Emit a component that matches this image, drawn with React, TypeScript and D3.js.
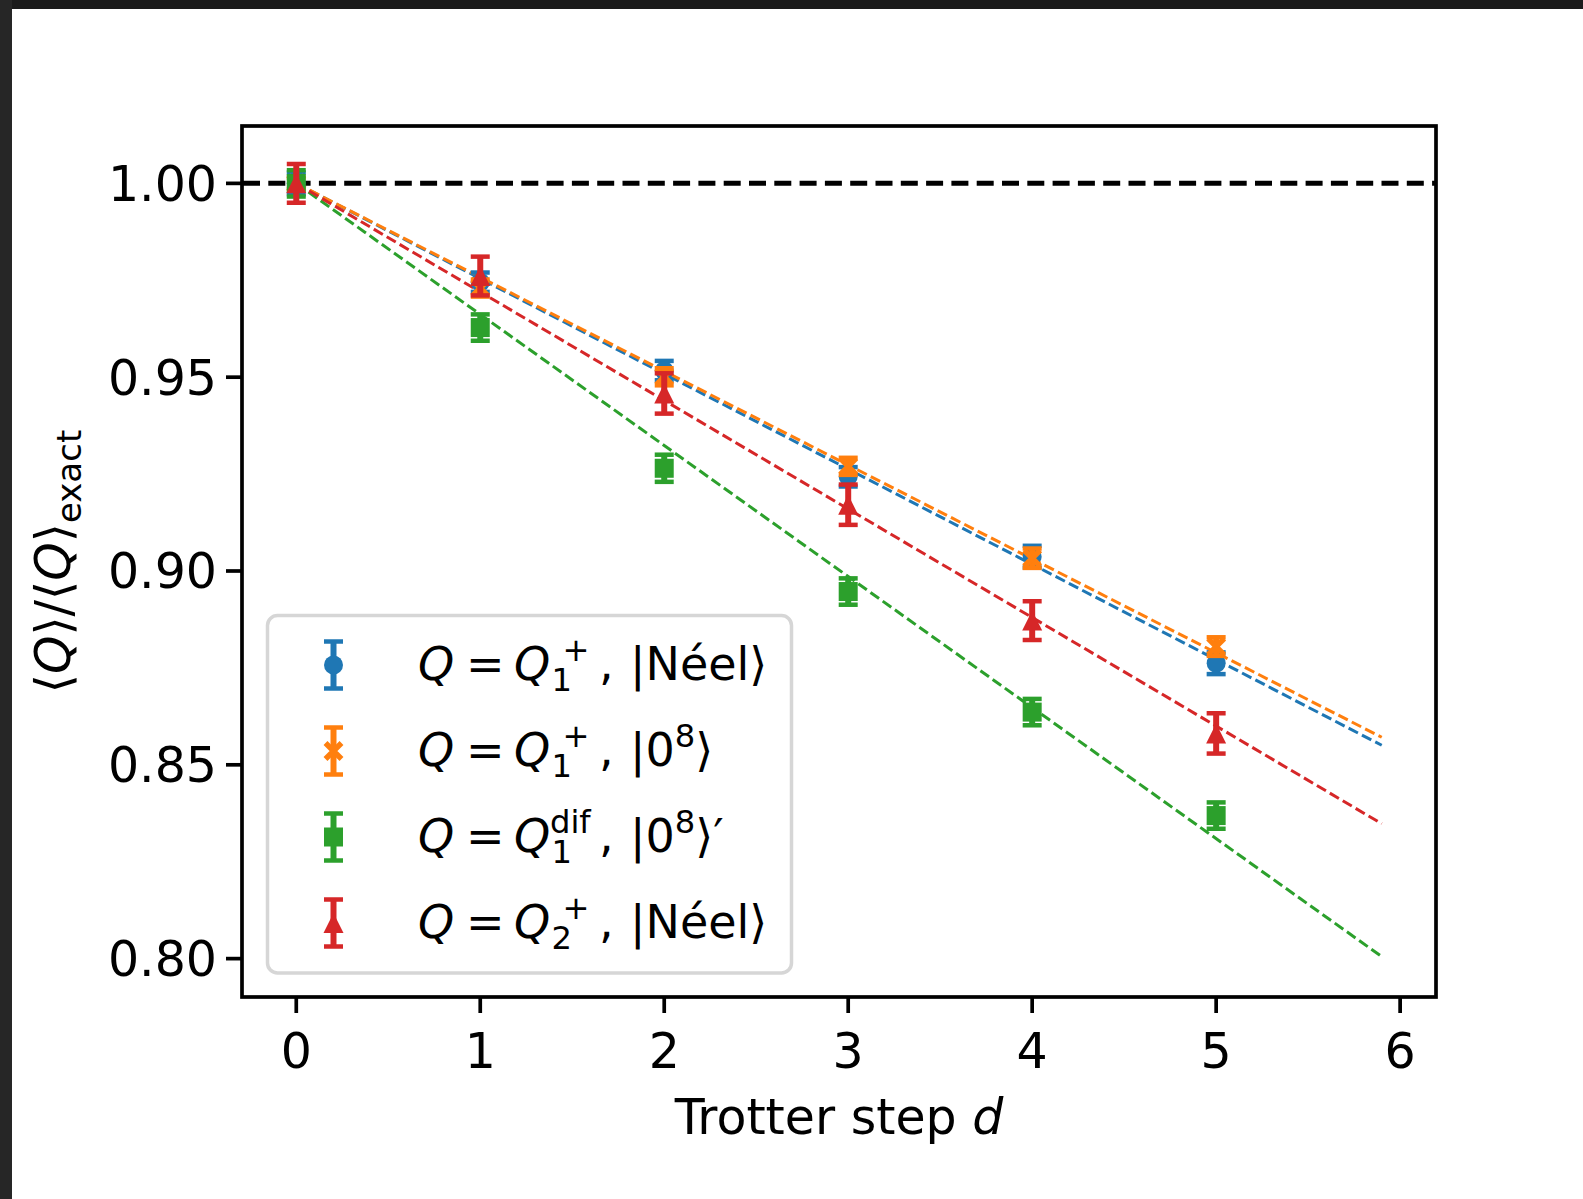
import React from 'react';
import * as d3 from 'd3';

// Trotter steps and measured ratios <Q>/<Q>_exact
const steps = [0, 1, 2, 3, 4, 5];

const q1NeelVals = [1.0, 0.9745, 0.9517, 0.9243, 0.9037, 0.8762];
const q1NeelErr = [0.0028, 0.0025, 0.0025, 0.0025, 0.0028, 0.0028];

const q1ZeroVals = [1.0, 0.973, 0.9501, 0.927, 0.9033, 0.8805];
const q1ZeroErr = [0.0015, 0.0022, 0.0022, 0.0022, 0.0025, 0.0024];

const q1DifVals = [1.0, 0.9628, 0.9265, 0.8947, 0.8636, 0.8369];
const q1DifErr = [0.0034, 0.0034, 0.0035, 0.0034, 0.0034, 0.0034];

const q2NeelVals = [1.0, 0.9761, 0.9458, 0.9171, 0.8872, 0.8581];
const q2NeelErr = [0.005, 0.005, 0.0052, 0.0052, 0.005, 0.0052];

// linear fits 1 - a*d, drawn for d in [0, 5.9]
const fitSlopes = [0.02457, 0.02422, 0.03381, 0.028];
const fitRange = [0, 5.9];

const xTicks = [0, 1, 2, 3, 4, 5, 6];
const yTicks = [0.8, 0.85, 0.9, 0.95, 1.0];

const colors = ['#1f77b4', '#ff7f0e', '#2ca02c', '#d62728'];
const markers = ['circle', 'x', 'square', 'triangle'];

const series = [
  { vals: q1NeelVals, err: q1NeelErr, sub: '1', sup: '+', state: 'neel' },
  { vals: q1ZeroVals, err: q1ZeroErr, sub: '1', sup: '+', state: 'zero' },
  { vals: q1DifVals, err: q1DifErr, sub: '1', sup: 'dif', state: 'zeroPrime' },
  { vals: q2NeelVals, err: q2NeelErr, sub: '2', sup: '+', state: 'neel' },
].map((s, i) => ({ ...s, color: colors[i], marker: markers[i], slope: fitSlopes[i] }));

const W = 1583;
const H = 1199;
const box = { left: 242, right: 1436, top: 126, bottom: 997 };
const FONT = 'DejaVu Sans, sans-serif';
const FS = 46; // legend
const TFS = 49; // ticks and axis labels
const SFS = 32.2;

const Marker = ({ type, cx, cy, color }) => {
  if (type === 'circle') return <circle cx={cx} cy={cy} r={9.5} fill={color} />;
  if (type === 'square') return <rect x={cx - 9.5} y={cy - 9.5} width={19} height={19} fill={color} />;
  if (type === 'triangle')
    return <path d={`M${cx},${cy - 10}L${cx - 10},${cy + 10}L${cx + 10},${cy + 10}Z`} fill={color} />;
  return (
    <path
      d={`M${cx - 8},${cy - 8}L${cx + 8},${cy + 8}M${cx - 8},${cy + 8}L${cx + 8},${cy - 8}`}
      stroke={color}
      strokeWidth={5.5}
      fill="none"
    />
  );
};

const ErrBar = ({ cx, y0, y1, color }) => (
  <g stroke={color}>
    <line x1={cx} x2={cx} y1={y0} y2={y1} strokeWidth={6} />
    <line x1={cx - 9.5} x2={cx + 9.5} y1={y0} y2={y0} strokeWidth={4.5} />
    <line x1={cx - 9.5} x2={cx + 9.5} y1={y1} y2={y1} strokeWidth={4.5} />
  </g>
);

const LegendLabel = ({ x0, base, s }) => {
  const supX = s.sup === 'dif' ? 132 : 144.5;
  return (
    <text y={base} fontFamily={FONT} fontSize={FS} fill="#000">
      <tspan x={x0} fontStyle="italic">Q</tspan>
      <tspan x={x0 + 48}>=</tspan>
      <tspan x={x0 + 96} fontStyle="italic">Q</tspan>
      <tspan x={x0 + 133.5} y={base + 10.7} fontSize={SFS}>{s.sub}</tspan>
      <tspan x={x0 + supX} y={base - 19} fontSize={SFS}>{s.sup}</tspan>
      <tspan x={x0 + 181} y={base}>,</tspan>
      {s.state === 'neel' ? (
        <tspan x={x0 + 212}>|Néel⟩</tspan>
      ) : (
        <>
          <tspan x={x0 + 212}>|0</tspan>
          <tspan dy={-19} fontSize={SFS}>8</tspan>
          <tspan dy={19}>⟩{s.state === 'zeroPrime' ? '′' : ''}</tspan>
        </>
      )}
    </text>
  );
};

export default function App() {
  const x = d3.scaleLinear().domain([-0.295, 6.195]).range([box.left, box.right]);
  const y = d3.scaleLinear().domain([0.7901, 1.0148]).range([box.bottom, box.top]);

  const legendRows = [680, 766, 852, 938];

  return (
    <svg
      width={W}
      height={H}
      style={{ position: 'absolute', left: 0, top: 0, display: 'block', background: '#fff' }}
    >
      {/* dark screenshot frame */}
      <rect x={0} y={0} width={W} height={9} fill="#1b1b1b" />
      <rect x={0} y={0} width={12} height={H} fill="#262626" />

      <defs>
        <clipPath id="plotClip">
          <rect x={box.left} y={box.top} width={box.right - box.left} height={box.bottom - box.top} />
        </clipPath>
      </defs>

      <g clipPath="url(#plotClip)">
        <line
          x1={box.left}
          x2={box.right}
          y1={y(1)}
          y2={y(1)}
          stroke="#000"
          strokeWidth={5}
          strokeDasharray="17,8.3"
          strokeDashoffset={-1}
        />
        {series.map((s, i) => (
          <path
            key={'fit' + i}
            d={`M${x(fitRange[0])},${y(1 - s.slope * fitRange[0])}L${x(fitRange[1])},${y(1 - s.slope * fitRange[1])}`}
            stroke={s.color}
            strokeWidth={3}
            strokeDasharray="10.5,4.5"
            fill="none"
          />
        ))}
        {series.map((s, i) => (
          <g key={'ser' + i}>
            {steps.map((d, j) => (
              <ErrBar
                key={j}
                cx={x(d)}
                y0={y(s.vals[j] + s.err[j])}
                y1={y(s.vals[j] - s.err[j])}
                color={s.color}
              />
            ))}
            {steps.map((d, j) => (
              <Marker key={'m' + j} type={s.marker} cx={x(d)} cy={y(s.vals[j])} color={s.color} />
            ))}
          </g>
        ))}
      </g>

      {/* axes frame */}
      <rect
        x={box.left}
        y={box.top}
        width={box.right - box.left}
        height={box.bottom - box.top}
        fill="none"
        stroke="#000"
        strokeWidth={3.7}
      />

      {xTicks.map((t) => (
        <g key={'xt' + t}>
          <line x1={x(t)} x2={x(t)} y1={box.bottom} y2={box.bottom + 16} stroke="#000" strokeWidth={3.7} />
          <text x={x(t)} y={1068} textAnchor="middle" fontFamily={FONT} fontSize={TFS} fill="#000">
            {t}
          </text>
        </g>
      ))}
      {yTicks.map((t) => (
        <g key={'yt' + t}>
          <line x1={box.left - 16} x2={box.left} y1={y(t)} y2={y(t)} stroke="#000" strokeWidth={3.7} />
          <text x={box.left - 25} y={y(t) + 17.5} textAnchor="end" fontFamily={FONT} fontSize={TFS} fill="#000">
            {d3.format('.2f')(t)}
          </text>
        </g>
      ))}

      <text x={(box.left + box.right) / 2} y={1134} textAnchor="middle" fontFamily={FONT} fontSize={TFS} fill="#000">
        Trotter step <tspan fontStyle="italic">d</tspan>
      </text>

      <text
        transform={`translate(70,${(box.top + box.bottom) / 2}) rotate(-90)`}
        textAnchor="middle"
        fontFamily={FONT}
        fontSize={TFS}
        fill="#000"
      >
        ⟨<tspan fontStyle="italic">Q</tspan>⟩/⟨<tspan fontStyle="italic">Q</tspan>⟩
        <tspan dy={11} fontSize={34}>exact</tspan>
      </text>

      {/* legend */}
      <rect
        x={267.5}
        y={615.5}
        width={524}
        height={357.5}
        rx={10}
        fill="#fff"
        fillOpacity={0.8}
        stroke="#d6d6d6"
        strokeWidth={3.5}
      />
      {series.map((s, i) => {
        const cy = legendRows[i] - 15;
        return (
          <g key={'lg' + i}>
            <ErrBar cx={333.5} y0={cy - 23.5} y1={cy + 23.5} color={s.color} />
            <Marker type={s.marker} cx={333.5} cy={cy} color={s.color} />
            <LegendLabel x0={418} base={legendRows[i]} s={s} />
          </g>
        );
      })}
    </svg>
  );
}
